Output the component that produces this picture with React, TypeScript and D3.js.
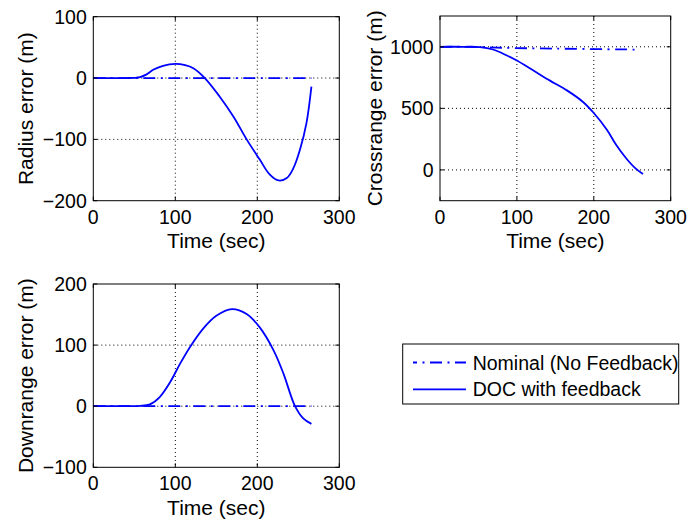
import React from "react";
import * as d3 from "d3";

// ---------- data ----------
const radiusT = [0, 20, 40, 50, 57, 65, 73, 85, 100, 112, 122, 136, 154, 171, 187, 203, 215, 226, 236, 244, 252, 260, 266];
const radiusDoc = [0, 0, 0, 0.3, 1.5, 6, 13.5, 20, 23, 21, 16, 0, -30, -63, -100, -133, -157, -167, -163, -147, -117, -73, -14];
const radiusNomT = [0, 266];
const radiusNom = [0, 0];

const crossT = [0, 30, 52, 69, 87, 100, 121, 143, 165, 186, 200, 217, 229, 242, 255, 264];
const crossDoc = [1000, 1000, 998, 978, 929, 888, 809, 725, 646, 552, 462, 326, 204, 95, 8, -33];
const crossNomT = [0, 50, 80, 150, 260];
const crossNom = [1000, 999, 992, 985, 977];

const downT = [0, 30, 57, 69, 81, 94, 106, 118, 134, 150, 169, 187, 203, 220, 232, 246, 256, 266];
const downDoc = [0, 0, 0.5, 3, 15, 40, 70, 97, 127, 148, 159, 151, 129, 91, 53, 0, -20, -29];
const downNomT = [0, 266];
const downNom = [0, 0];

const timeTicks = [0, 100, 200, 300];
const radiusTicks = [-200, -100, 0, 100];
const crossTicks = [0, 500, 1000];
const downTicks = [-100, 0, 100, 200];

const legendLabels = ["Nominal (No Feedback)", "DOC with feedback"];
const xLabel = "Time (sec)";

const BLUE = "#0000ff";
const DASHDOT = "12,5.5,2,5.5";
const FONT = "'Liberation Sans', Arial, Helvetica, sans-serif";

type Series = { t: number[]; v: number[]; dash?: string };

function fmt(v: number) {
  return v < 0 ? "\u2212" + Math.abs(v) : String(v);
}

function Panel(props: {
  left: number; top: number; width: number; height: number;
  yDomain: [number, number]; yTicks: number[]; yLabel: string; yLabelX: number;
  series: Series[];
}) {
  const { left, top, width, height, yDomain, yTicks, yLabel, yLabelX, series } = props;
  const x = d3.scaleLinear().domain([0, 300]).range([left, left + width]);
  const y = d3.scaleLinear().domain(yDomain).range([top + height, top]);
  const line = d3.line<[number, number]>().x(d => x(d[0])).y(d => y(d[1])).curve(d3.curveCatmullRom.alpha(0.5));
  const bottom = top + height;
  const right = left + width;
  const tl = 4;
  return (
    <g>
      {timeTicks.filter(t => t > 0 && t < 300).map(t => (
        <line key={"gx" + t} x1={x(t)} x2={x(t)} y1={top} y2={bottom} stroke="#000" strokeWidth={1} strokeDasharray="1,3" />
      ))}
      {yTicks.filter(v => v > yDomain[0] && v < yDomain[1]).map(v => (
        <line key={"gy" + v} x1={left} x2={right} y1={y(v)} y2={y(v)} stroke="#000" strokeWidth={1} strokeDasharray="1,3" />
      ))}
      {series.map((s, i) => (
        <path key={i} d={line(s.t.map((t, j) => [t, s.v[j]] as [number, number])) || ""} fill="none" stroke={BLUE} strokeWidth={1.8} strokeDasharray={s.dash} />
      ))}
      <rect x={left} y={top} width={width} height={height} fill="none" stroke="#000" strokeWidth={1} />
      {timeTicks.map(t => (
        <g key={"tx" + t}>
          <line x1={x(t)} x2={x(t)} y1={bottom} y2={bottom - tl} stroke="#000" />
          <line x1={x(t)} x2={x(t)} y1={top} y2={top + tl} stroke="#000" />
          <text x={x(t)} y={bottom + 23} textAnchor="middle" fontSize={19.5} fontFamily={FONT}>{fmt(t)}</text>
        </g>
      ))}
      {yTicks.map(v => (
        <g key={"ty" + v}>
          <line x1={left} x2={left + tl} y1={y(v)} y2={y(v)} stroke="#000" />
          <line x1={right} x2={right - tl} y1={y(v)} y2={y(v)} stroke="#000" />
          <text x={left - 6.5} y={y(v)} dy="0.36em" textAnchor="end" fontSize={19.5} fontFamily={FONT}>{fmt(v)}</text>
        </g>
      ))}
      <text x={(left + right) / 2} y={bottom + 47.5} textAnchor="middle" fontSize={21} fontFamily={FONT}>{xLabel}</text>
      <text transform={`translate(${yLabelX},${(top + bottom) / 2}) rotate(-90)`} textAnchor="middle" fontSize={21} fontFamily={FONT}>{yLabel}</text>
    </g>
  );
}

export default function App() {
  const lx0 = 413, lx1 = 466;
  return (
    <svg width={687} height={520} style={{ position: "absolute", left: 0, top: 0, background: "#fff" }}>
      <rect x={0} y={0} width={687} height={520} fill="#fff" />
      <Panel left={93.3} top={16.7} width={246} height={184} yDomain={[-200, 100]} yTicks={radiusTicks}
        yLabel="Radius error (m)" yLabelX={33}
        series={[{ t: radiusNomT, v: radiusNom, dash: DASHDOT }, { t: radiusT, v: radiusDoc }]} />
      <Panel left={440} top={16} width={230.7} height={184.7} yDomain={[-250, 1250]} yTicks={crossTicks}
        yLabel="Crossrange error (m)" yLabelX={382}
        series={[{ t: crossNomT, v: crossNom, dash: DASHDOT }, { t: crossT, v: crossDoc }]} />
      <Panel left={93.3} top={284} width={246} height={183.3} yDomain={[-100, 200]} yTicks={downTicks}
        yLabel="Downrange error (m)" yLabelX={33}
        series={[{ t: downNomT, v: downNom, dash: DASHDOT }, { t: downT, v: downDoc }]} />
      <g>
        <rect x={402.7} y={344} width={276} height={60} fill="#fff" stroke="#000" strokeWidth={1} />
        <line x1={lx0} x2={lx1} y1={362.5} y2={362.5} stroke={BLUE} strokeWidth={1.8} strokeDasharray={DASHDOT} strokeDashoffset={-17} />
        <text x={472.7} y={362.5} dy="0.36em" fontSize={19.5} fontFamily={FONT}>{legendLabels[0]}</text>
        <line x1={lx0} x2={lx1} y1={389.3} y2={389.3} stroke={BLUE} strokeWidth={1.8} />
        <text x={472.7} y={389.3} dy="0.36em" fontSize={19.5} fontFamily={FONT}>{legendLabels[1]}</text>
      </g>
    </svg>
  );
}
